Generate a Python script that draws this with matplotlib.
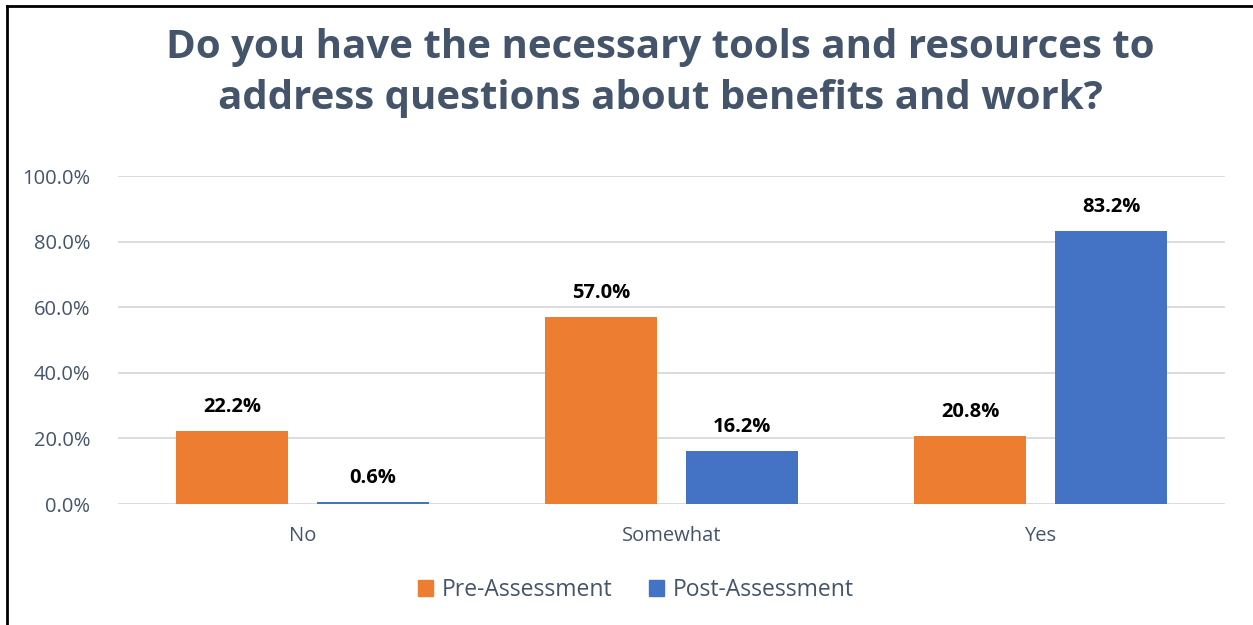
import matplotlib.pyplot as plt
import numpy as np
from matplotlib.lines import Line2D
from matplotlib.ticker import FuncFormatter

categories = ["No", "Somewhat", "Yes"]
pre_values = [22.2, 57.0, 20.8]
post_values = [0.6, 16.2, 83.2]
series_names = ["Pre-Assessment", "Post-Assessment"]

ORANGE = "#ED7D31"
BLUE = "#4472C4"
SLATE = "#44546A"

plt.rcParams["font.family"] = ["Open Sans", "DejaVu Sans"]

fig = plt.figure(figsize=(12.53, 6.25), dpi=100)
ax = fig.add_axes([118 / 1253, 1 - 504 / 625, 1107 / 1253, 328 / 625])

x = np.arange(len(categories))
w = 0.306
off = 0.191
b1 = ax.bar(x - off, pre_values, w, color=ORANGE, label=series_names[0], zorder=3)
b2 = ax.bar(x + off, post_values, w, color=BLUE, label=series_names[1], zorder=3)

# value labels above each bar
for bars in (b1, b2):
    for rect in bars:
        v = rect.get_height()
        ax.annotate(f"{v:.1f}%", (rect.get_x() + rect.get_width() / 2, v),
                    xytext=(0, 10), textcoords="offset points",
                    ha="center", va="bottom", fontsize=14.5, fontweight="bold",
                    color="black")

ax.set_xlim(-0.5, 2.5)
ax.set_ylim(0, 100)
ax.set_yticks(np.arange(0, 101, 20))
ax.yaxis.set_major_formatter(FuncFormatter(lambda v, _: f"{v:.1f}%"))
ax.set_xticks(x)
ax.set_xticklabels(categories)
ax.tick_params(axis="both", length=0, labelsize=14.5, labelcolor=SLATE)
ax.tick_params(axis="x", pad=16)
ax.tick_params(axis="y", pad=20)
ax.grid(axis="y", color="#D9D9D9", lw=1.3, zorder=0)
for s in ax.spines.values():
    s.set_visible(False)

fig.text(660 / 1253, 1 - 73 / 625,
         "Do you have the necessary tools and resources to\naddress questions about benefits and work?",
         ha="center", va="center", fontsize=29, fontweight="bold", color=SLATE,
         linespacing=1.38)

handles = [plt.Rectangle((0, 0), 1, 1, color=ORANGE),
           plt.Rectangle((0, 0), 1, 1, color=BLUE)]
fig.legend(handles, series_names, loc="center", bbox_to_anchor=(636 / 1253, 1 - 590 / 625),
           ncol=2, frameon=False, fontsize=16.5, labelcolor=SLATE,
           handlelength=0.65, handleheight=0.65, columnspacing=1.6, handletextpad=0.4)

# frame edges
fig.add_artist(Line2D([7 / 1253, 7 / 1253], [0, 1 - 6 / 625], color="black", lw=2))
fig.add_artist(Line2D([7 / 1253, 1], [1 - 6 / 625, 1 - 6 / 625], color="black", lw=2))

fig.savefig("out.png", dpi=100)
